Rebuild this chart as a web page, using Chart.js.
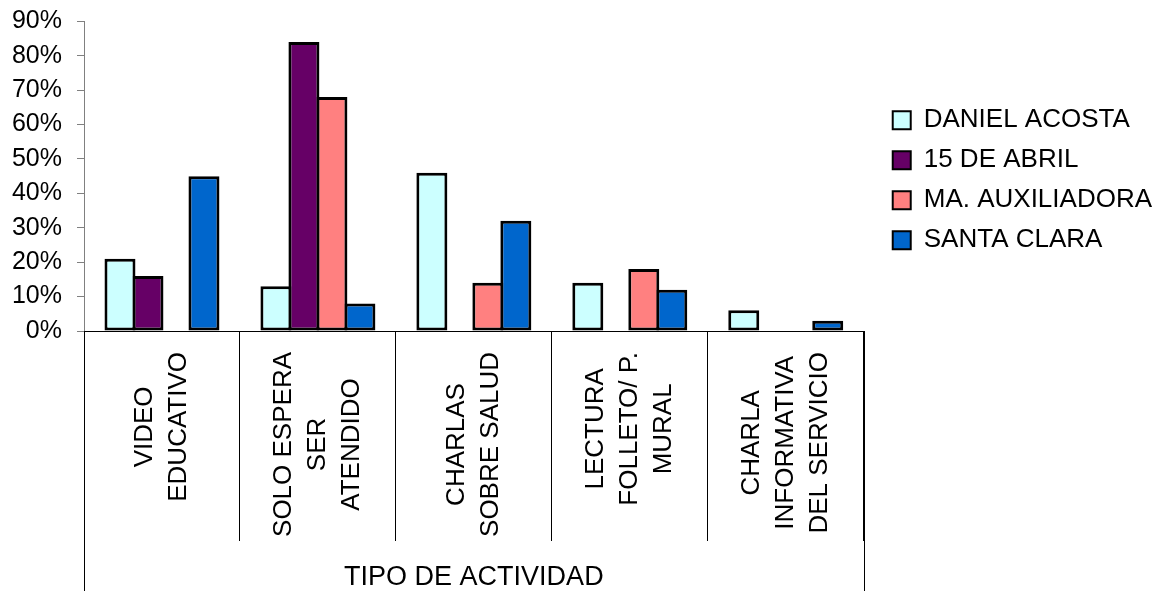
<!DOCTYPE html>
<html>
<head>
<meta charset="utf-8">
<script src="https://cdn.jsdelivr.net/npm/chart.js@4"></script>
<style>
  body { margin: 0; background: #fff; }
  #wrap { width: 1170px; height: 591px; position: relative; }
</style>
</head>
<body>
<div id="wrap"><canvas id="chart"></canvas></div>
<script>
// datos (porcentajes)
const categories = [
    ['VIDEO', 'EDUCATIVO'],
    ['SOLO ESPERA', 'SER', 'ATENDIDO'],
    ['CHARLAS', 'SOBRE SALUD'],
    ['LECTURA', 'FOLLETO/ P.', 'MURAL'],
    ['CHARLA', 'INFORMATIVA', 'DEL SERVICIO']
];
const seriesNames = ['DANIEL ACOSTA', '15 DE ABRIL', 'MA. AUXILIADORA', 'SANTA CLARA'];
const danielAcosta = [21, 13, 46, 14, 6];
const quinceAbril = [16, 84, 0, 0, 0];
const maAuxiliadora = [0, 68, 14, 18, 0];
const santaClara = [45, 8, 32, 12, 3];
const yMin = 0, yMax = 90, yStep = 10;
const axisTitle = 'TIPO DE ACTIVIDAD';

const colors = ['#CCFFFF', '#660066', '#FF8080', '#0066CC'];
const values = [danielAcosta, quinceAbril, maAuxiliadora, santaClara];

const FONT = "'Liberation Sans', Arial, sans-serif";
Chart.defaults.font.family = FONT;
Chart.defaults.font.size = 26;
Chart.defaults.color = '#000';

// etiquetas de categoria giradas + lineas exteriores
const categoryLabels = {
    id: 'categoryLabels',
    afterDraw(chart) {
        const ctx = chart.ctx;
        const xs = chart.scales.x;
        const area = chart.chartArea;
        ctx.save();
        ctx.strokeStyle = '#000';
        ctx.lineWidth = 1;
        [area.left, area.right].forEach(function (x) {
            ctx.beginPath();
            ctx.moveTo(Math.round(x) + 0.5, area.bottom);
            ctx.lineTo(Math.round(x) + 0.5, chart.height);
            ctx.stroke();
        });
        ctx.font = '26px ' + FONT;
        ctx.fillStyle = '#000';
        ctx.textAlign = 'center';
        ctx.textBaseline = 'middle';
        const lineStep = 34;
        const top = area.bottom + 21;
        categories.forEach(function (lines, i) {
            const cx = xs.getPixelForValue(i);
            let w = 0;
            lines.forEach(function (l) { w = Math.max(w, ctx.measureText(l).width); });
            const cy = top + w / 2;
            lines.forEach(function (l, j) {
                const lx = cx + (j - (lines.length - 1) / 2) * lineStep;
                ctx.save();
                ctx.translate(lx, cy);
                ctx.rotate(-Math.PI / 2);
                ctx.fillText(l, 0, 0);
                ctx.restore();
            });
        });
        ctx.restore();
    }
};

const chart = new Chart(document.getElementById('chart'), {
    type: 'bar',
    data: {
        labels: categories,
        datasets: seriesNames.map(function (name, k) {
            return {
                label: name,
                data: values[k],
                backgroundColor: colors[k],
                borderColor: '#000',
                borderWidth: 3,
                borderSkipped: false,
                barPercentage: 31 / 28,
                categoryPercentage: 0.718
            };
        })
    },
    options: {
        responsive: true,
        maintainAspectRatio: false,
        animation: false,
        layout: { padding: { top: 21, right: 8, bottom: 0, left: 0 } },
        plugins: {
            tooltip: { enabled: false },
            legend: {
                position: 'right',
                fullSize: false,
                title: { display: true, text: '', padding: 0, font: { size: 8, lineHeight: 1 } },
                labels: {
                    boxWidth: 18,
                    boxHeight: 18,
                    padding: 14,
                    color: '#000',
                    font: { size: 26 },
                    generateLabels: function (c) {
                        const items = Chart.defaults.plugins.legend.labels.generateLabels(c);
                        items.forEach(function (it) { it.lineWidth = 2; });
                        return items;
                    }
                }
            }
        },
        scales: {
            x: {
                grid: { drawOnChartArea: false, tickLength: 210, color: '#000' },
                border: { display: true, color: '#000', width: 1 },
                ticks: { display: false },
                title: {
                    display: true,
                    text: axisTitle,
                    color: '#000',
                    font: { size: 27, lineHeight: 1 },
                    padding: { top: 23, bottom: 0 }
                }
            },
            y: {
                min: yMin,
                max: yMax,
                grid: { drawOnChartArea: false, tickLength: 7, color: '#808080' },
                border: { display: true, color: '#808080', width: 1 },
                ticks: {
                    stepSize: yStep,
                    autoSkip: false,
                    padding: 15,
                    color: '#000',
                    font: { size: 25, lineHeight: 0.5 },
                    callback: function (v) { return v + '%'; }
                },
                afterFit: function (s) { s.width = 84; }
            },
            gap: {
                type: 'linear',
                position: 'right',
                display: false,
                afterFit: function (s) { s.width = 15; }
            }
        }
    },
    plugins: [categoryLabels]
});
</script>
</body>
</html>
